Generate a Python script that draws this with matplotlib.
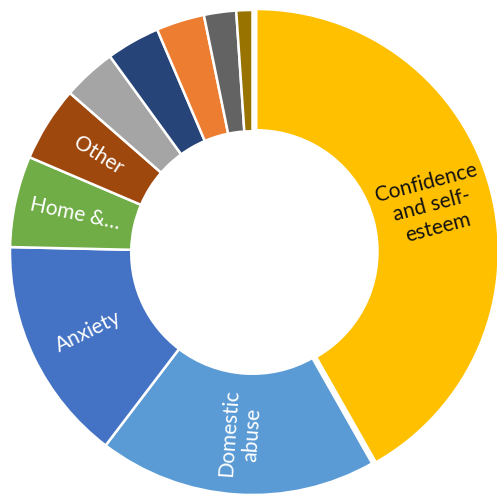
import numpy as np
import matplotlib
matplotlib.use("Agg")
import matplotlib.pyplot as plt

# referral reasons (counts), clockwise from 12 o'clock
labels = ["Confidence\nand self-\nesteem", "Domestic\nabuse", "Anxiety", "Home &…", "Other",
          "", "", "", "", ""]
counts = [117, 52, 42, 17, 14, 10, 10, 9, 6, 3]
colors = ["#FFC000", "#5B9BD5", "#4472C4", "#70AD47", "#9E480E",
          "#A5A5A5", "#264478", "#ED7D31", "#636363", "#997300"]
text_colors = ["#111111", "white", "white", "white", "white",
               "white", "white", "white", "white", "white"]
explode = [0.016, 0, 0, 0, 0, 0, 0, 0, 0, 0]

W, H = 497, 500
fig = plt.figure(figsize=(W / 100, H / 100), dpi=100)
ax = fig.add_axes([0, 0, 1, 1])

R = 242.5              # outer radius in pixels
cx, cy = 252.5, 252.5  # centre, pixels from top-left

wedges, _ = ax.pie(counts, colors=colors, explode=explode, startangle=90,
                   counterclock=False, radius=1.0,
                   wedgeprops=dict(width=0.5, edgecolor="white", linewidth=1.8))

ax.set_xlim(-cx / R, (W - cx) / R)
ax.set_ylim(-(H - cy) / R, cy / R)
ax.set_aspect("equal")
ax.axis("off")

# labels sit in the middle of the ring, rotated along the radius
for w, lab, tc in zip(wedges, labels, text_colors):
    if not lab:
        continue
    mid = (w.theta1 + w.theta2) / 2.0
    rr = w.r - w.width / 2.0
    x = w.center[0] + rr * np.cos(np.radians(mid))
    y = w.center[1] + rr * np.sin(np.radians(mid))
    a = (mid + 180) % 360 - 180
    if a > 90:
        a -= 180
    elif a < -90:
        a += 180
    ax.text(x, y, lab, color=tc, fontsize=15, family=["Lato", "DejaVu Sans"],
            ha="center", va="center", multialignment="center",
            rotation=a, rotation_mode="anchor", linespacing=1.2)

fig.savefig("out.png", dpi=100)
